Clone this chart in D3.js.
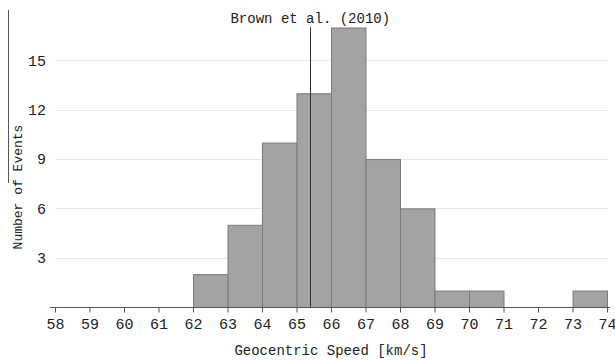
<!DOCTYPE html>
<html>
<head>
<meta charset="utf-8">
<script src="https://cdn.jsdelivr.net/npm/d3@7"></script>
<style>
  html, body { margin: 0; padding: 0; background: #fff; }
  svg { display: block; font-family: "Liberation Mono", "DejaVu Sans Mono", monospace; }
</style>
</head>
<body>
<div id="chart"></div>
<script>
// histogram bins (lower edge, km/s) and counts
const binStarts = [62, 63, 64, 65, 66, 67, 68, 69, 70, 71, 72, 73];
const binCounts = [2, 5, 10, 13, 17, 9, 6, 1, 1, 0, 0, 1];
const binWidth = 1;
const xTicks = [58, 59, 60, 61, 62, 63, 64, 65, 66, 67, 68, 69, 70, 71, 72, 73, 74];
const yTicks = [3, 6, 9, 12, 15];
const refSpeed = 65.4;
const refLabel = 'Brown et al. (2010)';

const W = 615, H = 361;
const svg = d3.select('#chart').append('svg')
  .attr('width', W)
  .attr('height', H);

const x = d3.scaleLinear().domain([58, 74]).range([55, 607]);
const y = d3.scaleLinear().domain([0, 17]).range([307, 27.5]);

// grid
svg.append('g')
  .selectAll('line')
  .data(yTicks)
  .join('line')
    .attr('x1', 55)
    .attr('x2', 608)
    .attr('y1', d => Math.round(y(d)) + 0.5)
    .attr('y2', d => Math.round(y(d)) + 0.5)
    .attr('stroke', '#e8e8e8')
    .attr('stroke-width', 1);

// y tick labels
svg.append('g')
  .selectAll('text')
  .data(yTicks)
  .join('text')
    .attr('x', 46)
    .attr('y', d => y(d))
    .attr('dy', '0.35em')
    .attr('text-anchor', 'end')
    .attr('fill', '#222')
    .style('font-size', '15px')
    .text(d => d);

// bars
const bins = binStarts.map((s, i) => ({ x0: s, x1: s + binWidth, count: binCounts[i] }))
  .filter(d => d.count > 0);
svg.append('g')
  .selectAll('rect')
  .data(bins)
  .join('rect')
    .attr('x', d => x(d.x0) + 0.5)
    .attr('y', d => y(d.count) + 0.5)
    .attr('width', d => x(d.x1) - x(d.x0))
    .attr('height', d => y(0) - y(d.count))
    .attr('fill', '#a3a3a3')
    .attr('stroke', '#7a7a7a')
    .attr('stroke-width', 1);

// x axis
const xAxis = svg.append('g')
  .attr('transform', `translate(0,${y(0) + 0.5})`)
  .call(d3.axisBottom(x).tickValues(xTicks).tickSize(5).tickSizeOuter(0).tickPadding(6).tickFormat(d3.format('d')));
xAxis.select('.domain')
  .attr('d', 'M50,0H610')
  .attr('stroke', '#555');
xAxis.selectAll('.tick line').attr('stroke', '#555');
xAxis.selectAll('.tick text')
  .attr('fill', '#222')
  .style('font-family', '"Liberation Mono", monospace')
  .style('font-size', '15px');

// reference line
svg.append('line')
  .attr('x1', Math.round(x(refSpeed)) + 0.5)
  .attr('x2', Math.round(x(refSpeed)) + 0.5)
  .attr('y1', 27)
  .attr('y2', y(0))
  .attr('stroke', '#333')
  .attr('stroke-width', 1);
svg.append('text')
  .attr('x', x(refSpeed))
  .attr('y', 23)
  .attr('text-anchor', 'middle')
  .attr('fill', '#222')
  .style('font-size', '14px')
  .text(refLabel);

// left frame line
svg.append('line')
  .attr('x1', 8.5).attr('x2', 8.5)
  .attr('y1', 10).attr('y2', 183)
  .attr('stroke', '#555')
  .attr('stroke-width', 1);

// axis titles
svg.append('text')
  .attr('transform', 'translate(22,187) rotate(-90)')
  .attr('text-anchor', 'middle')
  .attr('fill', '#222')
  .style('font-size', '13px')
  .text('Number of Events');

svg.append('text')
  .attr('x', 331)
  .attr('y', 355)
  .attr('text-anchor', 'middle')
  .attr('fill', '#222')
  .style('font-size', '14px')
  .text('Geocentric Speed [km/s]');
</script>
</body>
</html>
